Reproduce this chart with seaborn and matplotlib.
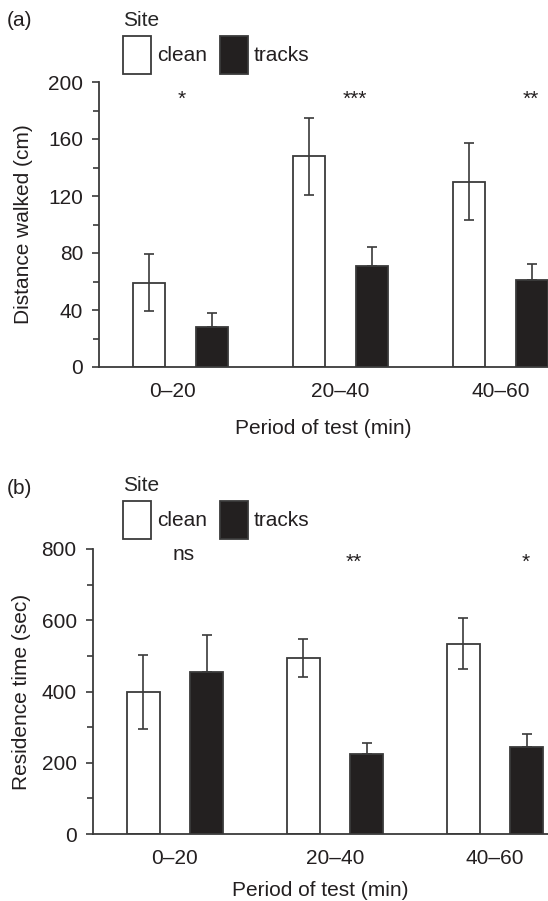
import matplotlib
matplotlib.use("Agg")
import matplotlib.pyplot as plt
from matplotlib.ticker import MultipleLocator
from matplotlib.transforms import ScaledTranslation
import seaborn as sns
import pandas as pd

# Periods of the test and the two site types
periods = ["0\u201320", "20\u201340", "40\u201360"]
sites = ["clean", "tracks"]

# Panel (a): distance walked (cm), means and standard errors
dist_clean = [59, 148, 130]
dist_tracks = [28, 71, 61]
dist_clean_err = [20, 27, 27]
dist_tracks_err = [10, 13, 11]
dist_signif = ["*", "***", "**"]

# Panel (b): residence time (sec), means and standard errors
res_clean = [399, 494, 534]
res_tracks = [455, 225, 244]
res_clean_err = [104, 53, 71]
res_tracks_err = [103, 31, 38]
res_signif = ["ns", "**", "*"]

sns.set_theme(style="ticks")
plt.rcParams["font.family"] = ["Liberation Sans", "DejaVu Sans"]
FS = 15
plt.rcParams["font.size"] = FS

INK = "#231f20"
EDGE = "#3a3a3a"
FILL = {"clean": "white", "tracks": "#231f20"}

fig = plt.figure(figsize=(5.48, 9.01), dpi=100)
W, H = 548.0, 901.0


def make_axes(left_px, top_px, bottom_px, x0_px, right_px=548.0, step_px=160.0):
    ax = fig.add_axes([left_px / W, 1 - bottom_px / H,
                       (right_px - left_px) / W, (bottom_px - top_px) / H])
    lo = -(x0_px - left_px) / step_px
    hi = (right_px - x0_px) / step_px
    return ax, (lo, hi)


def panel(ax, xlim, clean, tracks, clean_err, tracks_err, signif, sig_x, sig_y,
          ymax, major, minor, ylabel, tag, tag_y_px, legend_top_px,
          xlabelpad, ylabelpad, first_label_shift=0.0):
    df = pd.DataFrame({
        "period": periods * 2,
        "site": ["clean"] * 3 + ["tracks"] * 3,
        "value": list(clean) + list(tracks),
    })
    sns.barplot(data=df, x="period", y="value", hue="site", order=periods,
                hue_order=sites, palette=FILL, edgecolor=EDGE, linewidth=1.3,
                width=0.788, gap=0.485, errorbar=None, ax=ax)

    # error bars centred on each drawn bar
    for cont, vals, errs, both in zip(ax.containers, [clean, tracks],
                                      [clean_err, tracks_err], [True, False]):
        xs = [p.get_x() + p.get_width() / 2 for p in cont.patches]
        yerr = [errs, errs] if both else [[0] * len(errs), errs]
        ax.errorbar(xs, vals, yerr=yerr, fmt="none", ecolor=EDGE,
                    elinewidth=1.2, capsize=3.7, capthick=1.2, zorder=5)

    for x, y, s in zip(sig_x, sig_y, signif):
        ax.text(x, y, s, ha="center", va="baseline", fontsize=FS, color=INK)

    ax.set_xlim(*xlim)
    ax.set_ylim(0, ymax)
    ax.yaxis.set_major_locator(MultipleLocator(major))
    ax.yaxis.set_minor_locator(MultipleLocator(minor))
    ax.tick_params(axis="y", which="major", length=5, width=1.2, color=EDGE,
                   labelsize=FS, labelcolor=INK, pad=6.5)
    ax.tick_params(axis="y", which="minor", length=4, width=1.2, color=EDGE)
    ax.tick_params(axis="x", length=0, labelsize=FS, labelcolor=INK, pad=10.5)
    for side in ("top", "right"):
        ax.spines[side].set_visible(False)
    for side in ("left", "bottom"):
        ax.spines[side].set_color(EDGE)
        ax.spines[side].set_linewidth(1.3)
    ax.set_xlabel("Period of test (min)", fontsize=FS, color=INK,
                  labelpad=xlabelpad)
    ax.set_ylabel(ylabel, fontsize=FS, color=INK, labelpad=ylabelpad)

    if first_label_shift:
        lab = ax.get_xticklabels()[0]
        lab.set_transform(lab.get_transform() + ScaledTranslation(
            first_label_shift / 100.0, 0, fig.dpi_scale_trans))

    handles, labels = ax.get_legend_handles_labels()
    ax.get_legend().remove()
    fig.legend(handles, labels, title="Site", ncol=2, frameon=False,
               loc="upper left", bbox_to_anchor=(123 / W, 1 - legend_top_px / H),
               fontsize=FS, title_fontsize=FS, alignment="left",
               handlelength=1.35, handleheight=2.4, handletextpad=0.29,
               columnspacing=0.6, borderpad=0, borderaxespad=0,
               labelspacing=0.3, labelcolor=INK)
    fig.text(7 / W, 1 - tag_y_px / H, tag, fontsize=FS, color=INK,
             ha="left", va="center")


ax_a, xlim_a = make_axes(99, 82, 367, 180.5)
panel(ax_a, xlim_a, dist_clean, dist_tracks, dist_clean_err, dist_tracks_err,
      dist_signif, [0.01, 1.09, 2.19], [184, 184, 184], 200, 40, 20,
      "Distance walked (cm)", "(a)", 20, 11, xlabelpad=13, ylabelpad=11,
      first_label_shift=-8)

ax_b, xlim_b = make_axes(92.6, 549, 834, 175)
panel(ax_b, xlim_b, res_clean, res_tracks, res_clean_err, res_tracks_err,
      res_signif, [0.056, 1.116, 2.19], [768, 748, 748], 800, 200, 100,
      "Residence time (sec)", "(b)", 488, 476, xlabelpad=9.5, ylabelpad=7.5)

fig.savefig("out.png", dpi=100)
